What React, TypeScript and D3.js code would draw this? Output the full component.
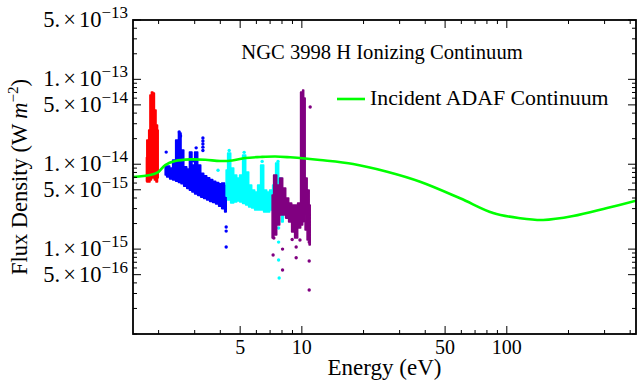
import React from 'react';
import * as d3 from 'd3';

const W = 640;
const H = 387;
const PL = 133, PR = 636, PT = 20, PB = 334;
const FONT = "'Liberation Serif', 'Times New Roman', serif";
const UNIT = 1e-15; // flux values below are in units of 1e-15 W m^-2

const xDomain = [1.5, 427];
const yDomain = [1e-16, 5e-13];

// Incident ADAF continuum
const contE = [1.503, 1.82, 1.991, 2.154, 2.41, 2.852, 3.375, 3.995, 4.571, 5.289, 6.26, 7.409, 8.767, 10.38, 12.28, 17.79, 26.07, 37.77, 59.19, 85.77, 116.1, 150.4, 210.6, 308.6, 427.2];
const contF = [7.07, 7.46, 8.09, 9.78, 10.9, 11.4, 11.3, 10.9, 11.06, 11.83, 12.16, 12.33, 12.06, 11.67, 11.2, 10.06, 8.16, 6.22, 3.97, 2.66, 2.31, 2.2, 2.45, 3.05, 3.72];

// Observed spectra: energy bins with lower / upper flux of the point cloud
const redE = [1.745, 1.76, 1.78, 1.80, 1.83, 1.86, 1.89, 1.925, 1.96, 1.99];
const redLo = [6.3, 6.17, 6.3, 6.17, 6.51, 6.88, 6.88, 6.51, 6.17, 6.88];
const redHi = [12.0, 19.3, 17.0, 25.3, 65.3, 70.8, 69.0, 43.5, 28.9, 25.3];

const blueE = [2.154, 2.228, 2.303, 2.383, 2.465, 2.537, 2.609, 2.697, 2.79, 2.868, 2.95, 3.05, 3.155, 3.264, 3.375, 3.491, 3.611, 3.734, 3.862, 3.995, 4.132, 4.273];
const blueLo = [7.46, 7.07, 6.69, 6.51, 6.3, 6.1, 5.9, 5.5, 5.2, 4.95, 4.7, 4.45, 4.3, 4.1, 3.95, 3.8, 3.65, 3.55, 3.4, 3.2, 3.0, 2.74];
const blueHi = [9.52, 9.52, 9.02, 11.2, 19.3, 23.3, 14.7, 9.3, 8.8, 13.9, 9.78, 13.9, 9.78, 7.8, 7.3, 6.9, 6.6, 6.3, 6.1, 5.9, 6.01, 5.6];
const blueOutE = [2.178, 3.29, 3.29, 3.29, 3.29, 3.29, 4.273, 4.273, 4.273, 2.95, 3.05, 2.52, 2.56];
const blueOutF = [13.9, 20.4, 18.8, 17.3, 15.9, 14.5, 1.82, 1.63, 1.06, 11.0, 15.6, 24.0, 21.5];

const cyanE = [4.273, 4.42, 4.571, 4.728, 4.89, 5.057, 5.23, 5.41, 5.595, 5.787, 5.985, 6.19, 6.402, 6.622, 6.849, 7.083, 7.326, 7.577, 7.836, 8.105];
const cyanLo = [4.2, 3.79, 3.49, 3.6, 3.7, 3.6, 3.45, 3.31, 3.13, 3.05, 2.89, 2.89, 2.89, 2.74, 2.74, 2.89, 3.05, 3.1, 2.52, 2.09];
const cyanHi = [8.54, 13.5, 9.02, 7.46, 6.88, 7.46, 12.8, 8.09, 5.69, 4.97, 4.71, 5.69, 9.78, 4.97, 4.71, 4.97, 5.69, 10.3, 6.88, 4.71];
const cyanOutE = [7.7, 7.75, 7.7, 7.7, 3.9, 4.42, 7.65, 6.4, 5.23];
const cyanOutF = [0.744, 0.457, 1.77, 1.21, 8.5, 14.5, 10.8, 10.8, 13.8];

const purpleE = [7.163, 7.409, 7.664, 7.925, 8.197, 8.48, 8.77, 9.07, 9.38, 9.7, 10.03, 10.15, 10.26, 10.49, 10.73, 10.98];
const purpleLo = [1.35, 1.47, 1.92, 2.52, 2.52, 2.32, 2.09, 1.59, 1.35, 1.77, 1.92, 2.1, 2.52, 1.68, 1.28, 1.12];
const purpleHi = [4.34, 7.46, 5.69, 6.88, 5.25, 4.0, 3.49, 3.31, 3.31, 3.49, 70.8, 74.8, 60.0, 6.88, 4.97, 3.31];
const purpleOutE = [10.98, 10.86, 10.86, 8.05, 7.24, 7.3, 8.05, 8.97, 9.38, 9.38, 9.79, 10.86];
const purpleOutF = [47.2, 0.724, 0.33, 0.567, 0.852, 1.35, 1.0, 1.3, 0.79, 1.06, 1.28, 1.21];

// Ticks
const xMajor = [5, 10, 50, 100];
const xMajorLabels = ['5', '10', '50', '100'];
const xMinor = [2, 3, 4, 6, 7, 8, 9, 20, 30, 40, 60, 70, 80, 90, 200, 300, 400];
const yLabelMant = [5, 1, 5, 1, 5, 1, 5];
const yLabelExp = [-13, -13, -14, -14, -15, -15, -16];
const yMinorMant = [1, 2, 3, 4, 6, 7, 8, 9];
const yMinorExp = [-16, -15, -14, -13];

const colors = { red: '#ff0000', blue: '#0000ff', cyan: '#00ffff', purple: '#800080', green: '#00ff00' };

export default function App() {
  const x = d3.scaleLog().domain(xDomain).range([PL, PR]);
  const y = d3.scaleLog().domain(yDomain).range([PB, PT]);

  const line = d3
    .line<number>()
    .x((_, i) => x(contE[i]))
    .y((_, i) => y(contF[i] * UNIT))
    .curve(d3.curveCatmullRom.alpha(0.5));

  const band = (E: number[], lo: number[], hi: number[], color: string, key: string) => {
    const area = d3
      .area<number>()
      .x((_, i) => x(E[i]))
      .y0((_, i) => y(lo[i] * UNIT))
      .y1((_, i) => y(hi[i] * UNIT))
      .curve(d3.curveStep);
    return <path key={key} d={area(E) || ''} fill={color} stroke={color} strokeWidth={1.6} strokeLinejoin="round" />;
  };
  const dots = (E: number[], F: number[], color: string, key: string) =>
    E.map((e, i) => <circle key={key + i} cx={x(e)} cy={y(F[i] * UNIT)} r={1.7} fill={color} />);

  const yMajorVals = yLabelMant.map((m, i) => m * Math.pow(10, yLabelExp[i]));
  const yMinorVals: number[] = [];
  yMinorExp.forEach((e) =>
    yMinorMant.forEach((m) => {
      const v = m * Math.pow(10, e);
      if (v >= yDomain[0] && v <= yDomain[1] && !yMajorVals.some((mv) => Math.abs(mv - v) / v < 1e-6)) yMinorVals.push(v);
    })
  );

  return (
    <svg width={W} height={H} style={{ position: 'absolute', left: 0, top: 0, background: '#fff' }} fontFamily={FONT}>
      <rect x={0} y={0} width={W} height={H} fill="#fff" />
      <defs>
        <clipPath id="clip">
          <rect x={PL} y={PT} width={PR - PL} height={PB - PT} />
        </clipPath>
      </defs>
      <g clipPath="url(#clip)">
        {band(redE, redLo, redHi, colors.red, 'r')}
        {band(blueE, blueLo, blueHi, colors.blue, 'b')}
        {dots(blueOutE, blueOutF, colors.blue, 'bo')}
        {band(cyanE, cyanLo, cyanHi, colors.cyan, 'c')}
        {dots(cyanOutE, cyanOutF, colors.cyan, 'co')}
        {band(purpleE, purpleLo, purpleHi, colors.purple, 'p')}
        {dots(purpleOutE, purpleOutF, colors.purple, 'po')}
        <path d={line(contE) || ''} fill="none" stroke={colors.green} strokeWidth={2.6} />
      </g>

      {/* ticks */}
      <g stroke="#000" strokeWidth={1}>
        {xMajor.map((v) => (
          <g key={'xM' + v}>
            <line x1={x(v)} x2={x(v)} y1={PB} y2={PB - 8} />
            <line x1={x(v)} x2={x(v)} y1={PT} y2={PT + 8} />
          </g>
        ))}
        {xMinor.map((v) => (
          <g key={'xm' + v}>
            <line x1={x(v)} x2={x(v)} y1={PB} y2={PB - 4} />
            <line x1={x(v)} x2={x(v)} y1={PT} y2={PT + 4} />
          </g>
        ))}
        {yMajorVals.map((v, i) => (
          <g key={'yM' + i}>
            <line x1={PL} x2={PL + 8} y1={y(v)} y2={y(v)} />
            <line x1={PR} x2={PR - 8} y1={y(v)} y2={y(v)} />
          </g>
        ))}
        {yMinorVals.map((v, i) => (
          <g key={'ym' + i}>
            <line x1={PL} x2={PL + 4} y1={y(v)} y2={y(v)} />
            <line x1={PR} x2={PR - 4} y1={y(v)} y2={y(v)} />
          </g>
        ))}
      </g>
      <rect x={PL} y={PT} width={PR - PL} height={PB - PT} fill="none" stroke="#000" strokeWidth={1.8} />

      {/* tick labels */}
      {xMajor.map((v, i) => (
        <text key={'xl' + v} x={x(v)} y={354} textAnchor="middle" fontSize={20}>
          {xMajorLabels[i]}
        </text>
      ))}
      {yMajorVals.map((v, i) => (
        <text key={'yl' + i} x={128} y={y(v) + 7} textAnchor="end" fontSize={22.5}>
          {yLabelMant[i]}.<tspan dx={3}>×</tspan><tspan dx={3}>10</tspan>
          <tspan dy={-9} fontSize={17}>{'\u2212' + Math.abs(yLabelExp[i])}</tspan>
        </text>
      ))}

      {/* axis titles */}
      <text x={(PL + PR) / 2} y={375} textAnchor="middle" fontSize={23}>
        Energy (eV)
      </text>
      <text transform={`translate(27,${(PT + PB) / 2}) rotate(-90)`} textAnchor="middle" fontSize={22.5}>
        Flux Density (W <tspan fontStyle="italic">m</tspan>
        <tspan dy={-9} fontSize={15}>{'\u22122'}</tspan>
        <tspan dy={9}>)</tspan>
      </text>

      {/* title */}
      <text x={382} y={59} textAnchor="middle" fontSize={20.6}>
        NGC 3998 H Ionizing Continuum
      </text>

      {/* legend */}
      <line x1={337} x2={365} y1={99} y2={99} stroke={colors.green} strokeWidth={2.6} />
      <text x={370} y={105} fontSize={21.8}>
        Incident ADAF Continuum
      </text>
    </svg>
  );
}
